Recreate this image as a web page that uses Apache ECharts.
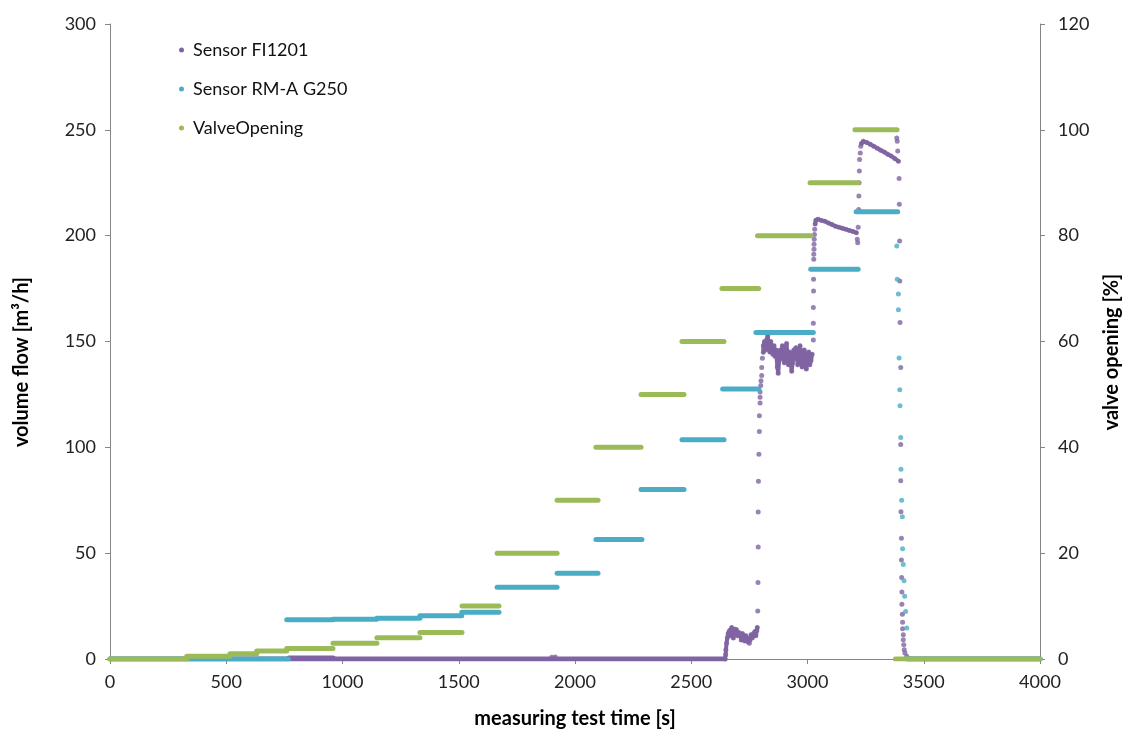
<!DOCTYPE html>
<html>
<head>
<meta charset="utf-8">
<script src="https://cdn.jsdelivr.net/npm/echarts@6/dist/echarts.min.js"></script>
<style>
  html, body { margin: 0; padding: 0; background: #fff; }
  #chart { width: 1127px; height: 734px; }
</style>
</head>
<body>
<div id="chart"></div>
<script>
// x ticks / axis ranges
var timeTicks = [0, 500, 1000, 1500, 2000, 2500, 3000, 3500, 4000];
var flowTicks = [0, 50, 100, 150, 200, 250, 300];
var valveTicks = [0, 20, 40, 60, 80, 100, 120];

// ValveOpening steps [tStart, tEnd, %]
var valveSteps = [
  [0, 330, 0], [330, 516, 0.5], [516, 631, 1], [631, 760, 1.5], [760, 959, 2],
  [959, 1148, 3], [1148, 1333, 4], [1333, 1514, 5], [1514, 1673, 10],
  [1665, 1923, 20], [1923, 2099, 30], [2090, 2284, 40], [2284, 2469, 50],
  [2460, 2641, 60], [2632, 2790, 70], [2785, 3015, 80], [3011, 3218, 90],
  [3204, 3385, 100], [3378, 4000, 0]
];

// Sensor RM-A G250 steps [tStart, tEnd, m3/h]
var rmaSteps = [
  [0, 767, 0], [760, 959, 18.5], [959, 1147, 18.8], [1148, 1333, 19.3],
  [1333, 1513, 20.4], [1513, 1673, 22.1], [1665, 1923, 33.9], [1923, 2099, 40.5],
  [2090, 2288, 56.5], [2284, 2469, 80.1], [2460, 2641, 103.6], [2635, 2791, 127.6],
  [2778, 3025, 154.3], [3014, 3218, 184.1], [3209, 3388, 211.3], [3427, 4000, 0]
];
// Sensor RM-A G250 drop after valve closing
var rmaDrop = [
  [3384, 195.1], [3386, 179.4], [3391, 172.4], [3391, 165.0], [3394, 142.2],
  [3397, 127.2], [3398, 119.6], [3401, 104.7], [3402, 89.6], [3405, 75.0],
  [3408, 67.2], [3409, 52.1], [3412, 44.7], [3415, 37.0], [3418, 29.7],
  [3422, 22.5], [3427, 14.6]
];

// Sensor FI1201
var fiZero = [[0, 2645, 0], [770, 960, 0.5], [3435, 4000, 0]];
var fiNoise1 = [
  [2645, 0], [2648, 2], [2649, 4.4], [2652, 7.5], [2655, 10], [2659, 12.2], [2665, 13.5],
  [2670, 11], [2674, 14.9], [2678, 12], [2681, 9.9], [2686, 12.5], [2690, 14], [2695, 13.8],
  [2700, 11], [2705, 12.5], [2710, 11.4], [2715, 9], [2720, 12], [2725, 10.7], [2730, 8.5],
  [2735, 11], [2739, 9.9], [2745, 8], [2750, 7.5], [2753, 9], [2757, 11.4], [2763, 10],
  [2768, 12], [2774, 13], [2778, 11], [2782, 13.5], [2784, 14.9]
];
var fiRise1 = [
  [1900, 0.8], [1915, 1.0],
  [2786, 22.7], [2787, 36.1], [2788, 52.9], [2788, 69.4], [2789, 84.0], [2791, 96.7],
  [2793, 107.5], [2793, 114.9], [2796, 120.9], [2796, 123.7], [2796, 126.1], [2799, 129.2],
  [2800, 131.5], [2803, 133.9], [2803, 137.7], [2806, 142.1]
];
var fiNoise2 = [
  [2810, 144.9], [2810, 148.0], [2815, 150], [2820, 146], [2825, 151], [2829, 152.7],
  [2833, 148], [2838, 145], [2842, 150], [2847, 147], [2851, 144], [2856, 148], [2860, 143],
  [2865, 146], [2870, 138], [2874, 135], [2878, 141], [2883, 146], [2887, 142], [2892, 148],
  [2896, 144], [2900, 140], [2905, 145], [2910, 149], [2914, 143], [2918, 139], [2923, 145],
  [2927, 141], [2932, 136], [2936, 140], [2941, 146], [2945, 142], [2950, 147], [2954, 143],
  [2958, 139], [2963, 144], [2968, 148], [2972, 141], [2977, 138], [2981, 143], [2986, 146],
  [2990, 140], [2995, 137], [3000, 142], [3005, 145], [3010, 139], [3015, 141], [3020, 144]
];
var fiRise2 = [
  [3025, 150.7], [3025, 158.6], [3025, 166.1], [3026, 173.8], [3026, 179.4], [3027, 188.9],
  [3027, 191.2], [3028, 193.6], [3028, 195.9], [3029, 198.3], [3030, 200.6], [3031, 203]
];
var fiCurve3 = [
  [3033, 205.5], [3036, 207.3], [3045, 207.8], [3060, 207.2], [3075, 206.8], [3090, 206], [3105, 205.3],
  [3120, 204.5], [3135, 204], [3150, 203.5], [3165, 203], [3180, 202.5], [3195, 202], [3210, 201.4]
];
var fiRise3 = [
  [3214, 198.3], [3216, 196.7], [3218, 204], [3220, 212.4], [3221, 218.7], [3222, 225],
  [3223, 230.5], [3224, 236], [3227, 239.1], [3229, 242.2]
];
var fiCurve4 = [
  [3232, 243.5], [3240, 244.6], [3255, 244], [3270, 243.2], [3285, 242.3], [3300, 241.3], [3315, 240.4],
  [3330, 239.5], [3345, 238.5], [3360, 237.6], [3375, 236.5], [3391, 235.2]
];
var fiDrop = [
  [3384, 246.2], [3386, 244.6], [3388, 240], [3394, 227], [3395, 214.8], [3396, 197.5],
  [3397, 178.6], [3398, 159], [3401, 137.7], [3401, 101.3], [3401, 84.2], [3402, 69.6],
  [3404, 57.1], [3404, 46.8], [3405, 38.5], [3406, 31.6], [3406, 25.9], [3408, 21.2],
  [3409, 17.4], [3409, 14.3], [3412, 11.4], [3412, 9.1], [3414, 6.7], [3416, 4.4],
  [3419, 2.8], [3427, 1.3]
];

var FI = 'Sensor FI1201', RMA = 'Sensor RM-A G250', VALVE = 'ValveOpening';
var cFI = '#8064a2', cRMA = '#4bacc6', cVALVE = '#9bbb59';

function segSeries(name, color, segs, yIdx, z) {
  return segs.map(function (s) {
    return {
      name: name, type: 'line', yAxisIndex: yIdx, z: z,
      data: [[s[0], s[2]], [s[1], s[2]]],
      symbol: 'none', silent: true,
      lineStyle: { width: 5, color: color, cap: 'round' },
      itemStyle: { color: color }
    };
  });
}
function polySeries(name, color, pts, yIdx, z) {
  return {
    name: name, type: 'line', yAxisIndex: yIdx, z: z, data: pts,
    symbol: 'none', silent: true,
    lineStyle: { width: 4, color: color, cap: 'round', join: 'round' },
    itemStyle: { color: color }
  };
}
function dotSeries(name, color, pts, yIdx, z) {
  return {
    name: name, type: 'scatter', yAxisIndex: yIdx, z: z, data: pts,
    symbol: 'circle', symbolSize: 5, silent: true,
    itemStyle: { color: color }
  };
}

var series = [];
series = series.concat(segSeries(FI, cFI, fiZero, 0, 2));
series.push(polySeries(FI, cFI, fiNoise1, 0, 2));
series.push(polySeries(FI, cFI, fiNoise2, 0, 2));
series.push(polySeries(FI, cFI, fiCurve3, 0, 2));
series.push(polySeries(FI, cFI, fiCurve4, 0, 2));
series.push(dotSeries(FI, cFI, [].concat(fiNoise1, fiRise1, fiNoise2, fiRise2, fiCurve3, fiRise3, fiCurve4, fiDrop), 0, 2));
series = series.concat(segSeries(RMA, cRMA, rmaSteps, 0, 3));
series.push(dotSeries(RMA, cRMA, rmaDrop, 0, 3));
series = series.concat(segSeries(VALVE, cVALVE, valveSteps, 1, 4));

var axisColor = '#868686';
var labelFont = { fontFamily: 'Lato', fontSize: 18, color: '#222' };
var nameFont = { fontFamily: 'Lato', fontSize: 20, fontWeight: 'bold', fill: '#000' };

var chart = echarts.init(document.getElementById('chart'));
var option = {
  animation: false,
  backgroundColor: '#fff',
  grid: { left: 110, right: 87, top: 24, bottom: 73 },
  legend: {
    orient: 'vertical', left: 174, top: 36,
    itemWidth: 5, itemHeight: 5, itemGap: 21,
    textStyle: { fontFamily: 'Lato', fontSize: 18, color: '#111', padding: [0, 0, 0, 4] },
    data: [
      { name: FI, icon: 'circle' },
      { name: RMA, icon: 'circle' },
      { name: VALVE, icon: 'circle' }
    ]
  },
  graphic: [
    { type: 'text', x: 22, y: 362, rotation: Math.PI / 2,
      style: Object.assign({ text: 'volume flow [m³/h]', textAlign: 'center', textVerticalAlign: 'middle' }, nameFont) },
    { type: 'text', x: 1112, y: 352, rotation: Math.PI / 2,
      style: Object.assign({ text: 'valve opening [%]', textAlign: 'center', textVerticalAlign: 'middle' }, nameFont) }
  ],
  xAxis: {
    type: 'value', min: timeTicks[0], max: timeTicks[timeTicks.length - 1], interval: 500,
    name: 'measuring test time [s]', nameLocation: 'middle', nameGap: 50,
    nameTextStyle: { fontFamily: 'Lato', fontSize: 20, fontWeight: 'bold', color: '#000' },
    axisLine: { lineStyle: { color: axisColor } },
    axisTick: { show: true, length: 5, lineStyle: { color: axisColor } },
    axisLabel: Object.assign({ margin: 14, formatter: function (v) { return String(v); } }, labelFont),
    splitLine: { show: false }
  },
  yAxis: [{
    type: 'value', min: flowTicks[0], max: flowTicks[flowTicks.length - 1], interval: 50,
    axisLine: { show: true, lineStyle: { color: axisColor } },
    axisTick: { show: true, length: 5, lineStyle: { color: axisColor } },
    axisLabel: Object.assign({ margin: 14 }, labelFont),
    splitLine: { show: false }
  }, {
    type: 'value', position: 'right', min: valveTicks[0], max: valveTicks[valveTicks.length - 1], interval: 20,
    axisLine: { show: true, lineStyle: { color: axisColor } },
    axisTick: { show: true, length: 5, lineStyle: { color: axisColor } },
    axisLabel: Object.assign({ margin: 18 }, labelFont),
    splitLine: { show: false }
  }],
  series: series
};
chart.setOption(option);
</script>
</body>
</html>
